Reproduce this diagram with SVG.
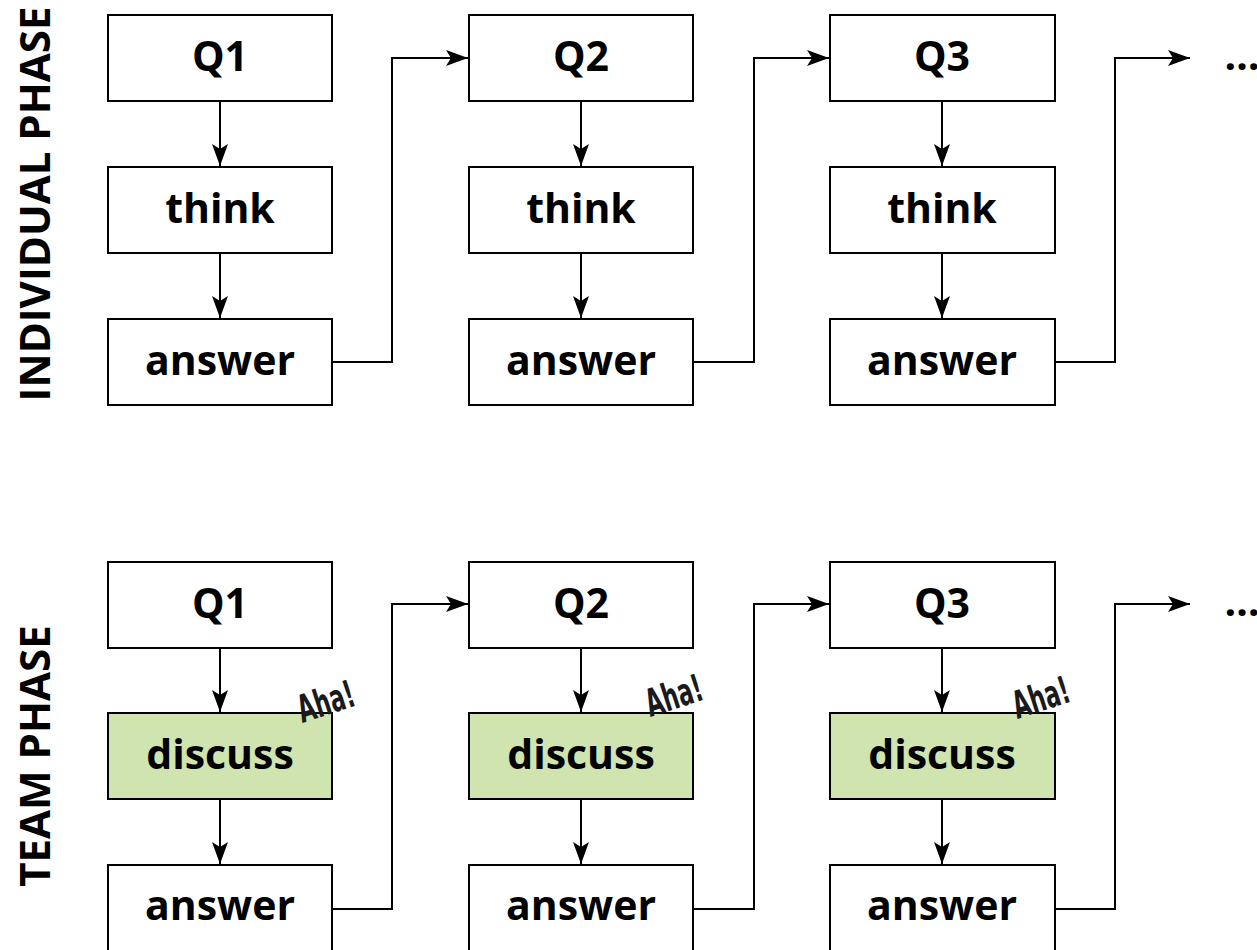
<svg xmlns="http://www.w3.org/2000/svg" width="1257" height="950" viewBox="0 0 1257 950">
<style>
.box{fill:#fff;stroke:#000;stroke-width:2}
.green{fill:#d0e4b0;stroke:#000;stroke-width:2}
.t{font-family:"Open Sans","Liberation Sans",sans-serif;font-weight:bold;font-size:41px;text-anchor:middle;dominant-baseline:central;fill:#000}
.v{font-family:"Open Sans","Liberation Sans",sans-serif;font-weight:bold;font-size:42px;text-anchor:middle;dominant-baseline:central;fill:#000}
.aha{font-family:"DejaVu Sans Condensed","DejaVu Sans",sans-serif;font-weight:bold;font-size:38px;text-anchor:middle;fill:#1a1a1a}
.c{fill:none;stroke:#000;stroke-width:2}
</style>
<defs>
<marker id="ah" viewBox="0 0 22 16" refX="22" refY="8" markerWidth="22" markerHeight="16" markerUnits="userSpaceOnUse" orient="auto">
<path d="M0,0 L22,8 L0,16 L5,8 z" fill="#000"/>
</marker>
</defs>
<rect width="1257" height="950" fill="#fff"/>
<text class="v" transform="translate(33,204) rotate(-90)">INDIVIDUAL PHASE</text>
<text class="v" transform="translate(33,756) rotate(-90)">TEAM PHASE</text>
<g id="connectors">
<path class="c" d="M220,101 V166" marker-end="url(#ah)"/>
<path class="c" d="M220,253 V318" marker-end="url(#ah)"/>
<path class="c" d="M581,101 V166" marker-end="url(#ah)"/>
<path class="c" d="M581,253 V318" marker-end="url(#ah)"/>
<path class="c" d="M942,101 V166" marker-end="url(#ah)"/>
<path class="c" d="M942,253 V318" marker-end="url(#ah)"/>
<path class="c" d="M332,362 H392 V58 H468" marker-end="url(#ah)"/>
<path class="c" d="M693,362 H754 V58 H829" marker-end="url(#ah)"/>
<path class="c" d="M1055,362 H1115 V58 H1190" marker-end="url(#ah)"/>
<path class="c" d="M220,648 V712" marker-end="url(#ah)"/>
<path class="c" d="M220,799 V864" marker-end="url(#ah)"/>
<path class="c" d="M581,648 V712" marker-end="url(#ah)"/>
<path class="c" d="M581,799 V864" marker-end="url(#ah)"/>
<path class="c" d="M942,648 V712" marker-end="url(#ah)"/>
<path class="c" d="M942,799 V864" marker-end="url(#ah)"/>
<path class="c" d="M332,909 H392 V604 H468" marker-end="url(#ah)"/>
<path class="c" d="M693,909 H754 V604 H829" marker-end="url(#ah)"/>
<path class="c" d="M1055,909 H1115 V604 H1190" marker-end="url(#ah)"/>
</g>
<g id="dots1"><text class="t" x="1242" y="54">…</text></g>
<g id="dots2"><text class="t" x="1242" y="600">…</text></g>
<g id="i-q1"><rect class="box" x="108" y="15" width="224" height="86"/><text class="t" x="220" y="55">Q1</text></g>
<g id="i-think1"><rect class="box" x="108" y="167" width="224" height="86"/><text class="t" x="220" y="207">think</text></g>
<g id="i-answer1"><rect class="box" x="108" y="319" width="224" height="86"/><text class="t" x="220" y="359">answer</text></g>
<g id="i-q2"><rect class="box" x="469" y="15" width="224" height="86"/><text class="t" x="581" y="55">Q2</text></g>
<g id="i-think2"><rect class="box" x="469" y="167" width="224" height="86"/><text class="t" x="581" y="207">think</text></g>
<g id="i-answer2"><rect class="box" x="469" y="319" width="224" height="86"/><text class="t" x="581" y="359">answer</text></g>
<g id="i-q3"><rect class="box" x="830" y="15" width="225" height="86"/><text class="t" x="942" y="55">Q3</text></g>
<g id="i-think3"><rect class="box" x="830" y="167" width="225" height="86"/><text class="t" x="942" y="207">think</text></g>
<g id="i-answer3"><rect class="box" x="830" y="319" width="225" height="86"/><text class="t" x="942" y="359">answer</text></g>
<g id="t-q1"><rect class="box" x="108" y="562" width="224" height="86"/><text class="t" x="220" y="602">Q1</text></g>
<g id="t-discuss1"><rect class="green" x="108" y="713" width="224" height="86"/><text class="t" x="220" y="753">discuss</text><text class="aha" transform="translate(330,714) rotate(-18) scale(0.65,1)">Aha!</text></g>
<g id="t-answer1"><rect class="box" x="108" y="865" width="224" height="100"/><text class="t" x="220" y="904">answer</text></g>
<g id="t-q2"><rect class="box" x="469" y="562" width="224" height="86"/><text class="t" x="581" y="602">Q2</text></g>
<g id="t-discuss2"><rect class="green" x="469" y="713" width="224" height="86"/><text class="t" x="581" y="753">discuss</text><text class="aha" transform="translate(678,708) rotate(-18) scale(0.65,1)">Aha!</text></g>
<g id="t-answer2"><rect class="box" x="469" y="865" width="224" height="100"/><text class="t" x="581" y="904">answer</text></g>
<g id="t-q3"><rect class="box" x="830" y="562" width="225" height="86"/><text class="t" x="942" y="602">Q3</text></g>
<g id="t-discuss3"><rect class="green" x="830" y="713" width="225" height="86"/><text class="t" x="942" y="753">discuss</text><text class="aha" transform="translate(1045,710) rotate(-18) scale(0.65,1)">Aha!</text></g>
<g id="t-answer3"><rect class="box" x="830" y="865" width="225" height="100"/><text class="t" x="942" y="904">answer</text></g>
</svg>
